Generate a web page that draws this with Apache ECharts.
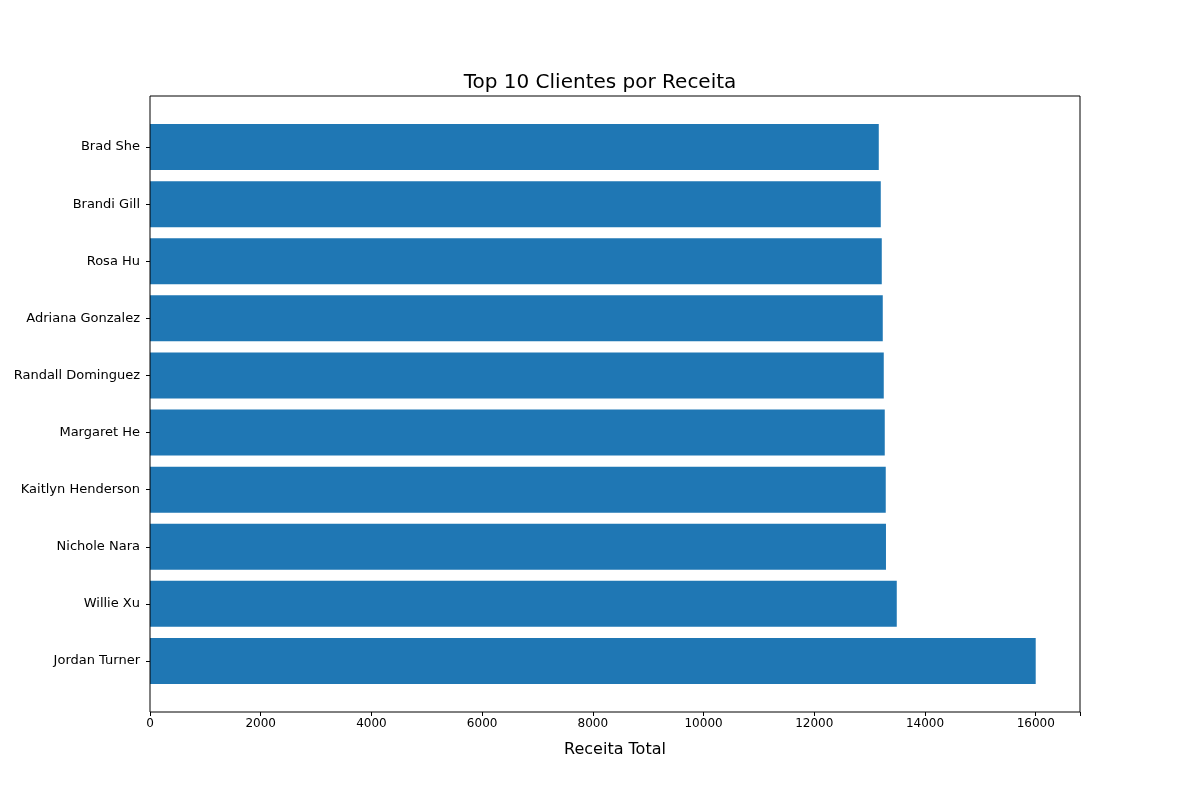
<!DOCTYPE html>
<html><head><meta charset="utf-8">
<script src="https://cdn.jsdelivr.net/npm/echarts@6/dist/echarts.min.js"></script>
<style>html,body{margin:0;padding:0;background:#fff}#c{width:1200px;height:800px}</style>
</head><body><div id="c"></div>
<script>
const categories = ["Jordan Turner","Willie Xu","Nichole Nara","Kaitlyn Henderson","Margaret He","Randall Dominguez","Adriana Gonzalez","Rosa Hu","Brandi Gill","Brad She"];
const revenue = [16000,13490,13295,13291,13273,13255,13237,13219,13201,13165];
const xTicksMax = 16800;
const chart = echarts.init(document.getElementById('c'));
const font = 'DejaVu Sans';
chart.setOption({
  animation:false,
  textStyle:{fontFamily:font},
  title:{text:'Top 10 Clientes por Receita',left:'center',top:68,textStyle:{fontFamily:font,fontSize:20,fontWeight:'normal',color:'#000'}},
  graphic:[{type:'rect',shape:{x:150,y:96,width:930,height:616},style:{fill:'none',stroke:'#000',lineWidth:1},z:10}],
  grid:{left:150,right:120,top:118.5,bottom:110.5},
  xAxis:{type:'value',min:0,max:xTicksMax,interval:2000,offset:22.5,
    name:'Receita Total',nameLocation:'middle',nameGap:30,nameTextStyle:{fontFamily:font,fontSize:16,color:'#000'},
    axisLine:{show:false},axisTick:{show:true,length:4,lineStyle:{color:'#000'}},
    axisLabel:{color:'#000',fontSize:12,fontFamily:font,margin:6,formatter:v=>v>16000?'':String(v)},
    splitLine:{show:false}},
  yAxis:{type:'category',data:categories,
    axisLine:{show:false},axisTick:{show:true,alignWithLabel:true,length:4,lineStyle:{color:'#000'}},
    axisLabel:{color:'#000',fontSize:13,fontFamily:font,margin:10}},
  series:[{type:'bar',data:revenue,barWidth:46,itemStyle:{color:'#1f77b4'}}]
});
</script></body></html>
